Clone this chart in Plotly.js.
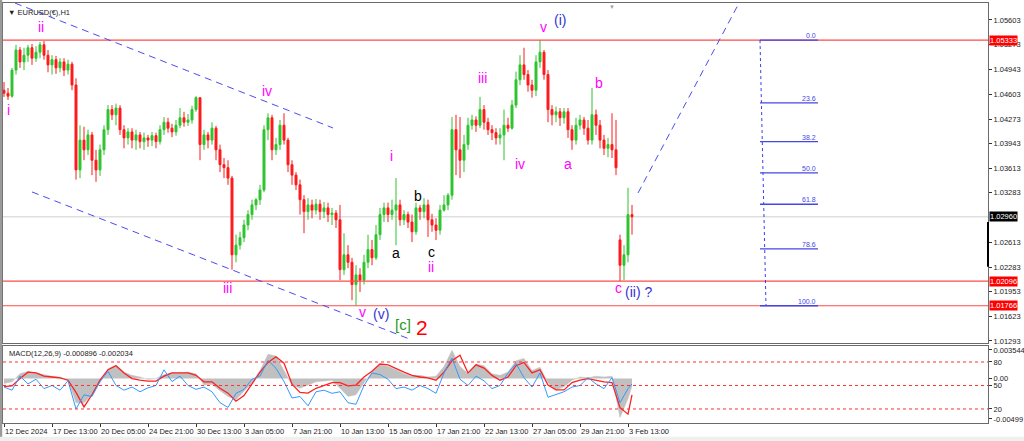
<!DOCTYPE html>
<html><head><meta charset="utf-8">
<script src="https://cdn.plot.ly/plotly-3.0.1.min.js"></script>
<style>html,body{margin:0;padding:0;background:#fff;}#chart{width:1024px;height:441px;}</style>
</head><body><div id="chart"></div>
<script>
// ---- price data (bar index, OHLC) ----
const barIndex = [0,1,2,3,4,5,6,7,8,9,10,11,12,13,14,15,16,17,18,19,20,21,22,23,24,25,26,27,28,29,30,31,32,33,34,35,36,37,38,39,40,41,42,43,44,45,46,47,48,49,50,51,52,53,54,55,56,57,58,59,60,61,62,63,64,65,66,67,68,69,70,71,72,73,74,75,76,77,78,79,80,81,82,83,84,85,86,87,88,89,90,91,92,93,94,95,96,97,98,99,100,101,102,103,104,105,106,107,108,109,110,111,112,113,114,115,116,117,118,119,120,121,122,123,124,125,126,127,128,129,130,131,132,133,134,135,136,137,138,139,140,141,142,143,144,145,146,147,148,149,150,151,152,153,154,155,156,157];
const openP = [1.0466,1.0462,1.0458,1.0493,1.0520,1.0504,1.0513,1.0523,1.0509,1.0517,
1.0527,1.0513,1.0500,1.0507,1.0496,1.0504,1.0493,1.0501,1.0473,1.0359,
1.0399,1.0386,1.0406,1.0372,1.0359,1.0386,1.0413,1.0440,1.0433,1.0442,
1.0413,1.0402,1.0410,1.0399,1.0406,1.0397,1.0402,1.0399,1.0405,1.0397,
1.0413,1.0423,1.0415,1.0410,1.0419,1.0429,1.0423,1.0426,1.0440,1.0456,
1.0393,1.0406,1.0399,1.0415,1.0386,1.0366,1.0362,1.0348,1.0245,1.0258,
1.0268,1.0285,1.0299,1.0312,1.0319,1.0332,1.0413,1.0429,1.0386,1.0393,
1.0419,1.0399,1.0366,1.0352,1.0339,1.0319,1.0303,1.0312,1.0305,1.0313,
1.0303,1.0308,1.0299,1.0301,1.0292,1.0225,1.0245,1.0235,1.0205,1.0218,
1.0211,1.0235,1.0252,1.0241,1.0272,1.0299,1.0308,1.0299,1.0305,1.0312,
1.0292,1.0299,1.0289,1.0276,1.0308,1.0303,1.0312,1.0292,1.0285,1.0278,
1.0305,1.0312,1.0325,1.0413,1.0386,1.0372,1.0393,1.0419,1.0426,1.0419,
1.0440,1.0423,1.0413,1.0409,1.0402,1.0406,1.0419,1.0415,1.0446,1.0480,
1.0500,1.0487,1.0473,1.0466,1.0504,1.0517,1.0487,1.0440,1.0433,1.0437,
1.0429,1.0437,1.0413,1.0399,1.0419,1.0426,1.0415,1.0399,1.0433,1.0419,
1.0399,1.0388,1.0393,1.0386,1.0265,1.0231,1.0245,1.0299];
const highP = [1.0477,1.0469,1.0496,1.0527,1.0524,1.0523,1.0527,1.0528,1.0525,1.0531,
1.0532,1.0520,1.0513,1.0512,1.0509,1.0509,1.0507,1.0504,1.0482,1.0419,
1.0417,1.0413,1.0410,1.0386,1.0393,1.0419,1.0446,1.0446,1.0448,1.0446,
1.0419,1.0415,1.0415,1.0413,1.0410,1.0409,1.0406,1.0410,1.0409,1.0419,
1.0430,1.0429,1.0421,1.0426,1.0442,1.0437,1.0434,1.0445,1.0458,1.0456,
1.0413,1.0410,1.0423,1.0418,1.0393,1.0375,1.0372,1.0351,1.0272,1.0276,
1.0292,1.0305,1.0319,1.0321,1.0339,1.0419,1.0435,1.0433,1.0402,1.0426,
1.0435,1.0402,1.0372,1.0356,1.0346,1.0325,1.0321,1.0319,1.0320,1.0319,
1.0316,1.0315,1.0308,1.0305,1.0312,1.0274,1.0258,1.0241,1.0231,1.0227,
1.0245,1.0272,1.0265,1.0285,1.0308,1.0315,1.0315,1.0319,1.0348,1.0319,
1.0305,1.0303,1.0299,1.0315,1.0312,1.0321,1.0319,1.0300,1.0294,1.0312,
1.0325,1.0328,1.0430,1.0433,1.0430,1.0406,1.0429,1.0433,1.0431,1.0457,
1.0446,1.0429,1.0419,1.0415,1.0415,1.0440,1.0429,1.0453,1.0491,1.0513,
1.0523,1.0493,1.0480,1.0513,1.05333,1.0520,1.0493,1.0446,1.0444,1.0442,
1.0442,1.0442,1.0419,1.0429,1.0433,1.0430,1.0426,1.0469,1.0440,1.0426,
1.0406,1.0402,1.0435,1.0426,1.0272,1.0258,1.0335,1.0312];
const lowP = [1.0457,1.0453,1.0456,1.0487,1.0496,1.0493,1.0504,1.0500,1.0504,1.0509,
1.0507,1.0490,1.0487,1.0488,1.0490,1.0485,1.0487,1.0466,1.0346,1.0348,
1.0372,1.0379,1.0352,1.0343,1.0351,1.0379,1.0406,1.0426,1.0419,1.0406,
1.0388,1.0393,1.0388,1.0386,1.0388,1.0386,1.0390,1.0391,1.0388,1.0393,
1.0406,1.0409,1.0403,1.0405,1.0415,1.0417,1.0418,1.0421,1.0437,1.0372,
1.0386,1.0388,1.0393,1.0372,1.0356,1.0348,1.0339,1.0225,1.0235,1.0252,
1.0262,1.0278,1.0292,1.0305,1.0312,1.0329,1.0399,1.0372,1.0379,1.0386,
1.0393,1.0356,1.0339,1.0332,1.0299,1.0274,1.0292,1.0294,1.0299,1.0292,
1.0294,1.0289,1.0285,1.0281,1.0211,1.0218,1.0227,1.0184,1.01766,1.0195,
1.0205,1.0227,1.0231,1.0238,1.0265,1.0289,1.0289,1.0292,1.0258,1.0284,
1.0285,1.0281,1.0262,1.0272,1.0292,1.0294,1.0269,1.0276,1.0265,1.0272,
1.0303,1.0305,1.0319,1.0352,1.0348,1.0356,1.0386,1.0413,1.0410,1.0415,
1.0413,1.0406,1.0399,1.0393,1.0393,1.0372,1.0410,1.0413,1.0442,1.0473,
1.0480,1.0464,1.0456,1.0458,1.0496,1.0480,1.0423,1.0419,1.0423,1.0418,
1.0421,1.0402,1.0386,1.0393,1.0413,1.0406,1.0393,1.0393,1.0406,1.0388,
1.0379,1.0376,1.0375,1.0352,1.02096,1.0211,1.0235,1.0272];
const closeP = [1.0462,1.0458,1.0493,1.0520,1.0504,1.0513,1.0523,1.0509,1.0517,1.0527,
1.0513,1.0500,1.0507,1.0496,1.0504,1.0493,1.0501,1.0473,1.0359,1.0399,
1.0386,1.0406,1.0372,1.0359,1.0386,1.0413,1.0440,1.0433,1.0442,1.0413,
1.0402,1.0410,1.0399,1.0406,1.0397,1.0402,1.0399,1.0405,1.0397,1.0413,
1.0423,1.0415,1.0410,1.0419,1.0429,1.0423,1.0426,1.0440,1.0456,1.0393,
1.0406,1.0399,1.0415,1.0386,1.0366,1.0362,1.0348,1.0245,1.0258,1.0268,
1.0285,1.0299,1.0312,1.0319,1.0332,1.0413,1.0429,1.0386,1.0393,1.0419,
1.0399,1.0366,1.0352,1.0339,1.0319,1.0303,1.0312,1.0305,1.0313,1.0303,
1.0308,1.0299,1.0301,1.0292,1.0225,1.0245,1.0235,1.0205,1.0218,1.0211,
1.0235,1.0252,1.0241,1.0272,1.0299,1.0308,1.0299,1.0305,1.0312,1.0292,
1.0299,1.0289,1.0276,1.0308,1.0303,1.0312,1.0292,1.0285,1.0278,1.0305,
1.0312,1.0325,1.0413,1.0386,1.0372,1.0393,1.0419,1.0426,1.0419,1.0440,
1.0423,1.0413,1.0409,1.0402,1.0406,1.0419,1.0415,1.0446,1.0480,1.0500,
1.0487,1.0473,1.0466,1.0504,1.0517,1.0487,1.0440,1.0433,1.0437,1.0429,
1.0437,1.0413,1.0399,1.0419,1.0426,1.0415,1.0399,1.0433,1.0419,1.0399,
1.0388,1.0393,1.0386,1.0362,1.0231,1.0245,1.0299,1.0296];

// ---- MACD panel data ----
const macdIndex = [0,2,4,6,8,10,12,14,16,18,20,22,24,26,28,30,32,34,36,38,40,42,44,46,48,50,52,54,56,58,60,62,64,66,68,70,72,74,76,78,80,82,84,86,88,90,92,94,96,98,100,102,104,106,108,110,112,114,116,118,120,122,124,126,128,130,132,134,136,138,140,142,144,146,148,150,152,154,156,157];
const macdMain = [-0.0006,-0.0004,0.0006,0.0009,0.0007,0.0005,0.0003,0.0002,-0.0002,-0.0030,
-0.0030,-0.0020,-0.0005,0.0012,0.0017,0.0008,0.0004,0.0002,-0.0001,0.0000,
0.0005,0.0007,0.0007,0.0008,0.0006,-0.0008,-0.0007,-0.0015,-0.0022,-0.0026,
-0.0016,-0.0005,0.0010,0.0030,0.0028,0.0010,-0.0008,-0.0012,-0.0008,-0.0004,
-0.0003,-0.0002,-0.0012,-0.0022,-0.0020,-0.0005,0.0008,0.0017,0.0015,0.0011,
0.0006,0.0003,0.0004,0.0002,0.0003,0.0015,0.0035,0.0015,0.0006,0.0018,
0.0016,0.0006,0.0004,0.0008,0.0022,0.0025,0.0010,0.0014,-0.0005,-0.0014,
-0.0010,-0.0002,0.0002,0.0001,0.0003,0.0002,0.0003,-0.0048,-0.0025,-0.0009];
const macdSignal = [-0.0010,-0.0009,0.0000,0.0008,0.0007,0.0003,0.0002,0.0001,-0.0002,-0.0017,
-0.0035,-0.0020,-0.0002,0.0011,0.0016,0.0007,0.0000,-0.0002,-0.0003,-0.0003,
0.0003,0.0007,0.0007,0.0007,0.0004,-0.0004,-0.0004,-0.0012,-0.0018,-0.0028,
-0.0021,-0.0007,0.0008,0.0020,0.0027,0.0019,-0.0007,-0.0017,-0.0018,-0.0012,
-0.0008,-0.0005,-0.0005,-0.0009,-0.0008,0.0002,0.0009,0.0018,0.0017,0.0012,
0.0008,0.0004,0.0002,0.0001,-0.0002,0.0008,0.0022,0.0029,0.0007,0.0017,
0.0013,0.0004,-0.0002,0.0002,0.0016,0.0020,0.0007,0.0011,-0.0008,-0.0014,
-0.0014,-0.0005,-0.0002,0.0000,-0.0002,-0.0004,-0.0005,-0.0036,-0.0044,-0.0020];
const oscLine = [48,44,62,52,58,46,50,44,56,20,
38,36,55,68,50,44,48,42,47,50,
70,55,62,50,45,48,42,28,22,40,
45,58,62,82,72,55,34,36,24,42,
44,40,42,28,26,50,66,64,58,46,
48,44,50,46,40,66,85,58,50,62,
56,46,50,66,78,60,48,66,35,38,
42,48,50,60,52,46,60,28,46,52];
const oscLevels = [80,50,20];

// ---- axis labels ----
const priceTicks = [1.05603,1.05273,1.04943,1.04603,1.04273,1.03943,1.03613,1.03283,1.02613,1.02283,1.01953,1.01623,1.01293];
const priceTickText = ['1.05603','1.05273','1.04943','1.04603','1.04273','1.03943','1.03613','1.03283','1.02613','1.02283','1.01953','1.01623','1.01293'];
const dateTickIndex = [0,12,24,36,48,60,72,84,96,108,120,132,144,156];
const dateTickLabels = ['12 Dec 2024','17 Dec 13:00','20 Dec 05:00','24 Dec 21:00','30 Dec 13:00','3 Jan 05:00','7 Jan 21:00','10 Jan 13:00','15 Jan 05:00','17 Jan 21:00','22 Jan 13:00','27 Jan 05:00','29 Jan 21:00','3 Feb 13:00'];

// ---- key levels ----
const waveHigh = 1.05333, supportLevel = 1.02096, waveLow = 1.01766, lastPrice = 1.02960;
const fibPercents = [0.0, 23.6, 38.2, 50.0, 61.8, 78.6, 100.0];
const fibBarStart = 189, fibBarEnd = 203.5, fibBarLow = 190.5;

// ---- drawn trend lines (bar index, price) ----
const channelUpper = [[2.75, 1.0583], [82.25, 1.04153]];
const channelLower = [[7, 1.03294], [102, 1.01306]];
const projLine = [[158.5, 1.0328], [183.75, 1.0583]];

// ---- wave labels ----
const waveText  = ['i','ii','iii','iv','v','(v)','[c]','2','i','a','b','c','ii','iii','iv','v','(i)','a','b','c','(ii) ?'];
const waveBar   = [1,9.25,55.75,65.75,89.5,94.25,99.75,104.5,96.75,98,103.5,106.75,106.75,119.5,129,134.75,139,141,148.75,153.5,158.5];
const wavePrice = [1.0440,1.0551,1.0200,1.0465,1.0168,1.0166,1.0152,1.0148,1.0378,1.0248,1.0324,1.0249,1.0229,1.0482,1.0367,1.0551,1.0560,1.0367,1.0476,1.0200,1.0195];
const waveKind  = ['m','m','m','m','m','b','g','r','m','k','k','k','m','m','m','m','b','m','m','m','b'];

const kindColor = {m:'#ff00ff', b:'#3434d4', g:'#1e9a1e', r:'#ff0000', k:'#000000'};
const FONT = 'Liberation Sans, Arial, sans-serif';

const traces = [
  {type:'candlestick', x:barIndex, open:openP, high:highP, low:lowP, close:closeP,
   xaxis:'x', yaxis:'y', whiskerwidth:0,
   increasing:{line:{color:'#2ec42e', width:1}, fillcolor:'#2ec42e'},
   decreasing:{line:{color:'#ff1a1a', width:1}, fillcolor:'#ff1a1a'},
   hoverinfo:'skip'},
  {type:'scatter', mode:'lines', x:macdIndex, y:macdMain, xaxis:'x2', yaxis:'y2',
   fill:'tozeroy', fillcolor:'#c0c0c0', line:{color:'#c0c0c0', width:0.5}, hoverinfo:'skip'},
  {type:'scatter', mode:'lines', x:macdIndex, y:oscLine, xaxis:'x2', yaxis:'y3',
   line:{color:'#3399ff', width:1}, hoverinfo:'skip'},
  {type:'scatter', mode:'lines', x:macdIndex, y:macdSignal, xaxis:'x2', yaxis:'y2',
   line:{color:'#ff2020', width:1.3}, hoverinfo:'skip'}
];

const shapes = [];
shapes.push({type:'line', xref:'paper', x0:0, x1:1, yref:'y', y0:lastPrice, y1:lastPrice, line:{color:'#cfcfcf', width:1}, layer:'below'});
[waveHigh, supportLevel, waveLow].forEach(p => shapes.push({type:'line', xref:'paper', x0:0, x1:1, yref:'y', y0:p, y1:p, line:{color:'#ff4a4a', width:1.2}}));
[channelUpper, channelLower, projLine].forEach(l => shapes.push({type:'line', xref:'x', yref:'y', x0:l[0][0], y0:l[0][1], x1:l[1][0], y1:l[1][1], line:{color:'#4b4bf0', width:1, dash:'7px,5px'}}));
shapes.push({type:'line', xref:'x', yref:'y', x0:fibBarStart, y0:waveHigh, x1:fibBarLow, y1:waveLow, line:{color:'#3b3bf0', width:1, dash:'dot'}});
const fibPrice = fibPercents.map(p => waveHigh - p/100*(waveHigh - waveLow));
fibPrice.forEach(p => shapes.push({type:'line', xref:'x', yref:'y', x0:fibBarStart, x1:fibBarEnd, y0:p, y1:p, line:{color:'#4646e6', width:1.3}}));
oscLevels.forEach(v => shapes.push({type:'line', xref:'paper', x0:0, x1:1, yref:'y3', y0:v, y1:v, line:{color:'#ff3030', width:1, dash:'dot'}}));
shapes.push({type:'line', xref:'paper', x0:1, x1:1, yref:'y', y0:1.0229, y1:1.0289, line:{color:'#000', width:2}});
shapes.push({type:'rect', xref:'paper', x0:-0.00305, x1:-0.0008, yref:'paper', y0:-0.045, y1:1.01, fillcolor:'#9a9a9a', line:{width:0}});
shapes.push({type:'rect', xref:'paper', x0:-0.00305, x1:1.04, yref:'paper', y0:-0.045, y1:-0.033, fillcolor:'#f0f0f0', line:{width:0}});

const annotations = [];
annotations.push({xref:'paper', yref:'paper', x:0, y:1, xanchor:'left', yanchor:'top', xshift:3, yshift:-3, text:'▼ EURUSD(€),H1', showarrow:false, font:{family:FONT, size:7.5, color:'#222'}});
annotations.push({xref:'paper', yref:'paper', x:0, y:0.1833, xanchor:'left', yanchor:'top', xshift:4, yshift:-1, text:'MACD(12,26,9) -0.000896 -0.002034', showarrow:false, font:{family:FONT, size:7.5, color:'#222'}});
annotations.push({xref:'x', yref:'paper', x:152, y:1, xanchor:'center', yanchor:'top', yshift:1, text:'▼', showarrow:false, font:{family:FONT, size:6, color:'#a0a0a0'}});
dateTickIndex.forEach((b, k) => annotations.push({xref:'x2', yref:'paper', x:b, y:0, xanchor:'left', yanchor:'top', xshift:-1, yshift:-2,
  text:dateTickLabels[k], showarrow:false, font:{family:FONT, size:7.5, color:'#222'}}));
waveText.forEach((t, k) => annotations.push({xref:'x', yref:'y', x:waveBar[k], y:wavePrice[k], text:t, showarrow:false,
  xanchor:'center', yanchor:'middle', font:{family:FONT, size: waveKind[k]==='r' ? 21 : (waveKind[k]==='g' ? 15 : 14), color:kindColor[waveKind[k]]}}));
fibPercents.forEach((p, k) => annotations.push({xref:'x', yref:'y', x:fibBarEnd, y:fibPrice[k], text:p.toFixed(1), showarrow:false,
  xanchor:'right', yanchor:'bottom', yshift:-1, font:{family:FONT, size:7, color:'#4646e6'}}));
[[waveHigh,'#ff0000','1.05333'],[supportLevel,'#ff0000','1.02096'],[waveLow,'#ff0000','1.01766'],[lastPrice,'#000000','1.02960']].forEach(a =>
  annotations.push({xref:'paper', yref:'y', x:1, y:a[0], xanchor:'left', yanchor:'middle', xshift:1, text:a[2], showarrow:false,
    bgcolor:a[1], borderpad:0, font:{family:FONT, size:7.5, color:'#ffffff'}}));

const axisCommon = {showgrid:false, zeroline:false, showline:true, mirror:true, linecolor:'#6a6a6a', linewidth:1, fixedrange:true};
const layout = {
  width:1024, height:441, margin:{l:3, r:36, t:3, b:18},
  paper_bgcolor:'#ffffff', plot_bgcolor:'#ffffff', showlegend:false,
  font:{family:FONT, size:7.5, color:'#222'},
  xaxis:Object.assign({}, axisCommon, {domain:[0,1], anchor:'y', range:[-0.25,246], showticklabels:false, ticks:'', rangeslider:{visible:false}}),
  xaxis2:Object.assign({}, axisCommon, {domain:[0,1], anchor:'y2', range:[-0.25,246], tickmode:'array', tickvals:dateTickIndex, showticklabels:false,
    ticks:'outside', ticklen:3, tickcolor:'#333'}),
  yaxis:Object.assign({}, axisCommon, {domain:[0.1905,1], anchor:'x', side:'right', range:[1.01266,1.05831], tickmode:'array', tickvals:priceTicks, ticktext:priceTickText,
    ticks:'outside', ticklen:3, tickcolor:'#333', tickfont:{family:FONT, size:7.5, color:'#222'}}),
  yaxis2:Object.assign({}, axisCommon, {domain:[0,0.1833], anchor:'x2', side:'right', range:[-0.00549,0.00403], tickmode:'array', tickvals:[0.003544,0,-0.00499], ticktext:['0.003544','0.00','-0.00499'],
    ticks:'outside', ticklen:3, tickcolor:'#333', tickfont:{family:FONT, size:7.5, color:'#222'}}),
  yaxis3:{overlaying:'y2', anchor:'x2', side:'right', range:[2.1,100.4], tickmode:'array', tickvals:oscLevels, ticktext:['80','50','20'], showgrid:false, zeroline:false, showline:false,
    ticks:'outside', ticklen:3, tickcolor:'#333', tickfont:{family:FONT, size:7.5, color:'#222'}, fixedrange:true},
  shapes:shapes, annotations:annotations
};
Plotly.newPlot('chart', traces, layout, {staticPlot:true, displayModeBar:false});
</script></body></html>
